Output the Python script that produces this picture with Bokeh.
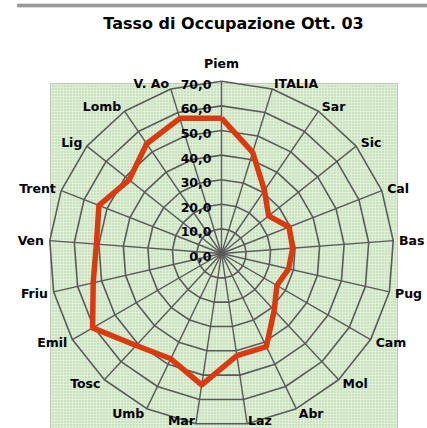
import numpy as np
from bokeh.plotting import figure
from bokeh.models import Range1d, ColumnDataSource
from bokeh.core.properties import value
from bokeh.embed import file_html
from bokeh.resources import INLINE

# ---- data ----
categories = ["Piem", "ITALIA", "Sar", "Sic", "Cal", "Bas", "Pug", "Cam", "Mol", "Abr",
              "Laz", "Mar", "Umb", "Tosc", "Emil", "Friu", "Ven", "Trent", "Lig", "Lomb", "V. Ao"]
values = [55.0, 43.0, 31.0, 24.5, 29.5, 29.0, 28.0, 26.0, 31.5, 42.0,
          42.0, 54.0, 47.5, 51.0, 60.5, 53.5, 51.0, 53.5, 48.0, 54.0, 57.5]
ring_values = [10, 20, 30, 40, 50, 60, 70]
tick_values = [0, 10, 20, 30, 40, 50, 60, 70]
tick_labels = ["0,0", "10,0", "20,0", "30,0", "40,0", "50,0", "60,0", "70,0"]
title_text = "Tasso di Occupazione Ott. 03"

# ---- layout ----
W, H = 427, 428
CX, CY = 221, 253          # radar centre in figure pixels (from top-left)
K = 2.46                   # pixels per value unit
FONT = "DejaVu Sans"

def dx(px):
    return (px - CX) / K

def dy(py):
    return (CY - py) / K

p = figure(width=W, height=H, output_backend="svg", toolbar_location=None,
           x_range=Range1d(dx(0), dx(W)), y_range=Range1d(dy(H), dy(0)),
           min_border=0, min_border_left=0, min_border_right=0,
           min_border_top=0, min_border_bottom=0)
p.axis.visible = False
p.grid.visible = False
p.outline_line_color = None
p.background_fill_color = "white"
p.border_fill_color = "white"

# top rule
p.segment(x0=[dx(17)], y0=[dy(5)], x1=[dx(W)], y1=[dy(5)],
          line_color="#4a4a4a", line_width=3.5, line_dash="1 1")
p.segment(x0=[dx(17)], y0=[dy(5)], x1=[dx(W)], y1=[dy(5)],
          line_color="#8a8a8a", line_width=3.5, line_dash="1 1", line_dash_offset=1)

# title
p.text(x=[dx(233)], y=[dy(23)], text=[title_text], text_font=value(FONT),
       text_font_style="bold", text_font_size="16px", text_align="center",
       text_baseline="middle", text_color="black")

# plot area (green dotted)
p.quad(left=[dx(50)], right=[dx(397)], top=[dy(83)], bottom=[dy(H + 10)],
       fill_color="#dcf0d2", line_color="#9a9a9a", line_dash="1 1", line_width=1,
       hatch_pattern="dot", hatch_color="#b4c2ae", hatch_scale=3, hatch_weight=1)

n = len(categories)
theta = np.arange(n) * 2 * np.pi / n
s, c = np.sin(theta), np.cos(theta)

# rings (polygons)
ring_xs = [list(np.append(v * s, v * s[0])) for v in ring_values]
ring_ys = [list(np.append(v * c, v * c[0])) for v in ring_values]
p.multi_line(xs=ring_xs, ys=ring_ys, line_color="#5a5a5a", line_width=1.6)

# spokes
rmax = max(ring_values)
p.segment(x0=np.zeros(n), y0=np.zeros(n), x1=rmax * s, y1=rmax * c,
          line_color="#5a5a5a", line_width=1.4)

# data series
vals = np.array(values)
p.line(x=list(np.append(vals * s, vals[0] * s[0])), y=list(np.append(vals * c, vals[0] * c[0])),
       line_color="#d93a10", line_width=5.5, line_join="round")

# radial tick labels
p.text(x=[dx(CX - 10)] * len(tick_values), y=tick_values, text=tick_labels,
       text_font=value(FONT), text_font_style="bold", text_font_size="12.5px",
       text_align="right", text_baseline="middle", y_offset=3, text_color="black")

# category labels
r_lab = np.where(np.abs(c) > 0.99, 190 / K, 178 / K)
lx = r_lab * s
ly = r_lab * c
bottom_lim = dy(H - 1)
baseline = ["bottom" if ci < -0.95 else "middle" for ci in c]
ly = np.where(c < -0.95, bottom_lim, ly)
align = ["left" if si > 0.05 else ("right" if si < -0.05 else "center") for si in s]
src = ColumnDataSource(dict(x=lx, y=ly, t=categories, a=align, b=baseline))
p.text(x="x", y="y", text="t", text_align="a", text_baseline="b", source=src,
       text_font=value(FONT), text_font_style="bold", text_font_size="12.5px",
       text_color="black")

open("out.html", "w").write(file_html(p, INLINE))
